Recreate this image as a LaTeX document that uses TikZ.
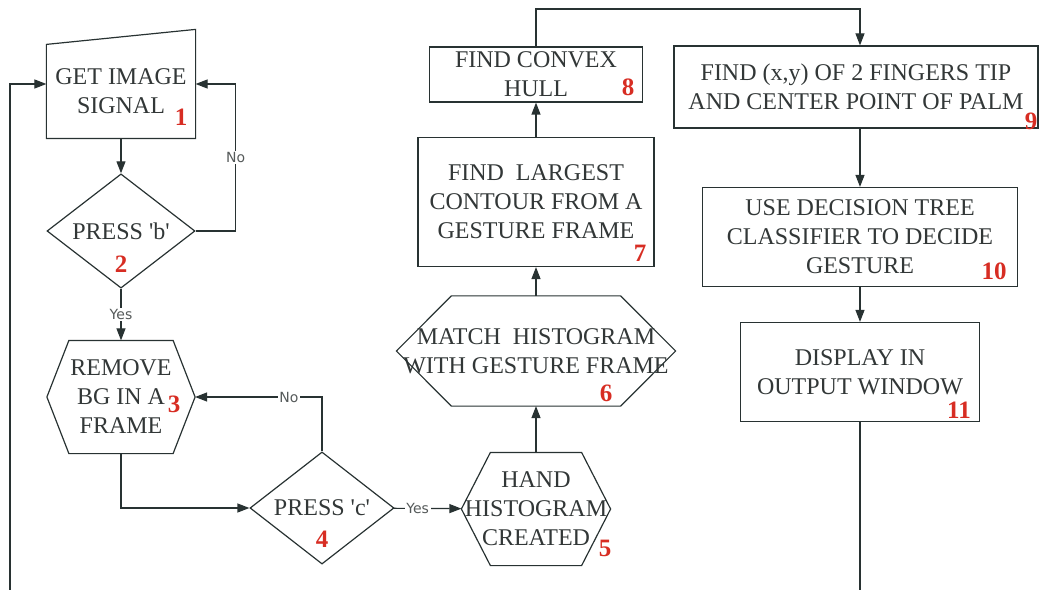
\documentclass[tikz,border=0pt]{standalone}
\usepackage{fontspec}
\setmainfont{Liberation Serif}
\newfontfamily\lblfont{DejaVu Sans}
\usetikzlibrary{arrows.meta,positioning,shapes.geometric,calc}
\definecolor{flowline}{RGB}{ 40, 50, 50}
\definecolor{flowtext}{RGB}{ 50, 55, 55}
\definecolor{stepred} {RGB}{215, 45, 35}
\definecolor{lblgray} {RGB}{ 85, 90, 90}
\tikzset{
  stepbox/.style={draw=flowline,line width=1.2bp,inner sep=0pt,
                  align=center,text=flowtext,
                  font=\fontsize{24bp}{29bp}\selectfont},
  hexbox/.style={stepbox,draw=none},
  inpbox/.style={hexbox,minimum width=148bp,minimum height=93bp},
  decide/.style={stepbox,diamond},
  stepno/.style={font=\fontsize{25bp}{25bp}\selectfont\bfseries,
                 text=stepred,inner sep=0pt},
  link/.style={line width=1.2bp,color=flowline},
  arr/.style={link,-{Triangle[length=12bp,width=9bp]}},
  lbl/.style={font=\lblfont\fontsize{14bp}{14bp}\selectfont,text=lblgray,
              fill=white,inner sep=1.5bp},
}
% outline of a stretched hexagon round a hexbox node
\newcommand{\hexoutline}[2]{%
  \draw[link] (#1.west) -- ([xshift=#2]#1.north west)
    -- ([xshift=-#2]#1.north east) -- (#1.east)
    -- ([xshift=-#2]#1.south east) -- ([xshift=#2]#1.south west) -- cycle;}

\begin{document}
\begin{tikzpicture}[x=1bp,y=-1bp]
  \useasboundingbox (0,0) rectangle (1040,590);

  % left column
  \node[inpbox] (n1) at (121,91.5) {GET IMAGE\\SIGNAL};
  \draw[link] (n1.south west) -- (n1.north west)
    -- ([yshift=15bp]n1.north east) -- (n1.south east) -- cycle;
  \node[decide,minimum width=148bp,minimum height=112bp] (d2) at (121,231)
    {PRESS \textquotesingle b\textquotesingle};
  \node[hexbox,minimum width=147bp,minimum height=112bp] (h3) at (121,397)
    {REMOVE\\BG IN A\\FRAME};
  \hexoutline{h3}{22bp}
  \node[decide,minimum width=144bp,minimum height=110bp] (d4) at (322,508)
    {PRESS \textquotesingle c\textquotesingle};

  % middle column
  \node[hexbox,minimum width=148bp,minimum height=112bp] (h5) at (536,509)
    {HAND\\HISTOGRAM\\CREATED};
  \hexoutline{h5}{29bp}
  \node[hexbox,minimum width=278bp,minimum height=109bp] (h6) at (536,351)
    {MATCH~ HISTOGRAM\\WITH GESTURE FRAME};
  \hexoutline{h6}{55bp}
  \node[stepbox,minimum width=236bp,minimum height=129bp] (n7) at (536,202)
    {FIND~ LARGEST\\CONTOUR FROM A\\GESTURE FRAME};
  \node[stepbox,minimum width=213bp,minimum height=55bp] (n8) at (536,74.5)
    {FIND CONVEX\\HULL};

  % right column
  \node[stepbox,minimum width=364bp,minimum height=82bp] (n9) at (856,87)
    {FIND (x,y) OF 2 FINGERS TIP\\AND CENTER POINT OF PALM};
  \node[stepbox,minimum width=315bp,minimum height=99bp] (n10) at (860,237)
    {USE DECISION TREE\\CLASSIFIER TO DECIDE\\GESTURE};
  \node[stepbox,minimum width=239bp,minimum height=99bp] (n11) at (860,372)
    {DISPLAY IN\\OUTPUT WINDOW};

  % step numbers
  \node[stepno] (no1)  at (181,117) {1};
  \node[stepno] (no2)  at (121,264) {2};
  \node[stepno] (no3)  at (174,404) {3};
  \node[stepno] (no4)  at (322,539) {4};
  \node[stepno] (no5)  at (605,548) {5};
  \node[stepno] (no6)  at (606,393) {6};
  \node[stepno] (no7)  at (640,253) {7};
  \node[stepno] (no8)  at (628,87)  {8};
  \node[stepno] (no9)  at (1031,121) {9};
  \node[stepno] (no10) at (994,271) {10};
  \node[stepno] (no11) at (959,410) {11};

  \coordinate (top) at (860,9);
  \coordinate (botr) at (860,590);
  \coordinate (botl) at (10,590);
  \coordinate (in1) at (121,84);

  \draw[arr] (n1) -- (d2);
  \draw[arr] (d2.east) -- ++(40,0) |- node[lbl,pos=0.25]{No} (in1 -| n1.east);
  \draw[arr] (d2) -- node[lbl]{Yes} (h3);
  \draw[arr] (h3.south) |- (d4.west);
  \draw[arr] (d4.north) |- node[lbl,pos=0.63]{No} (h3.east);
  \draw[arr] (d4) -- node[lbl,pos=0.35]{Yes} (h5);
  \draw[arr] (h5) -- (h6);
  \draw[arr] (h6) -- (n7);
  \draw[arr] (n7) -- (n8);
  \draw[arr] (n8.north) |- (top) -- (top |- n9.north);
  \draw[arr] (n9.south -| n10.north) -- (n10.north);
  \draw[arr] (n10) -- (n11);
  \draw[link] (n11.south) -- (botr);
  \draw[arr] (botl) |- (in1 -| n1.west);
\end{tikzpicture}
\end{document}
